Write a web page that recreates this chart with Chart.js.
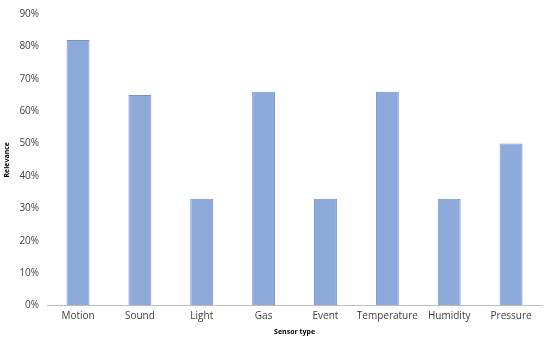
<!DOCTYPE html>
<html>
<head>
<meta charset="utf-8">
<script src="https://cdn.jsdelivr.net/npm/chart.js@4"></script>
<style>
  body { margin: 0; background: #fff; }
  #wrap { width: 550px; height: 341px; }
</style>
</head>
<body>
<div id="wrap"><canvas id="myChart"></canvas></div>
<script>
// categories and values
const sensors = ['Motion', 'Sound', 'Light', 'Gas', 'Event', 'Temperature', 'Humidity', 'Pressure'];
const relevance = [82, 65, 33, 66, 33, 66, 33, 50];
const yTicks = [0, 10, 20, 30, 40, 50, 60, 70, 80, 90];

const ctx = document.getElementById('myChart').getContext('2d');
const myChart = new Chart(ctx, {
    type: 'bar',
    data: {
        labels: sensors,
        datasets: [{
            label: 'Relevance',
            data: relevance,
            backgroundColor: '#8eaadb',
            borderColor: '#7393d0',
            borderWidth: 1,
            categoryPercentage: 1,
            barPercentage: 0.37
        }]
    },
    options: {
        responsive: true,
        maintainAspectRatio: false,
        animation: false,
        layout: { padding: { top: 6, right: 8, left: 3, bottom: 5 } },
        plugins: { legend: { display: false }, tooltip: { enabled: false } },
        scales: {
            x: {
                grid: { display: false, drawTicks: false },
                border: { color: '#bfbfbf' },
                ticks: { color: '#404040', font: { family: 'Open Sans', size: 10 }, padding: 5, maxRotation: 0, autoSkip: false },
                title: { display: true, text: 'Sensor type', color: '#000', font: { family: 'Open Sans', size: 7, weight: 'bold' }, padding: { top: 0, bottom: 0 } }
            },
            y: {
                min: 0,
                max: 90,
                afterBuildTicks: (axis) => { axis.ticks = yTicks.map(v => ({ value: v })); },
                grid: { display: false, drawTicks: false },
                border: { display: false },
                ticks: { color: '#404040', font: { family: 'Open Sans', size: 10 }, padding: 8, callback: v => v + '%' },
                title: { display: true, text: 'Relevance', color: '#000', font: { family: 'Open Sans', size: 7, weight: 'bold' }, padding: { top: 0, bottom: 0 } }
            }
        }
    }
});
</script>
</body>
</html>
